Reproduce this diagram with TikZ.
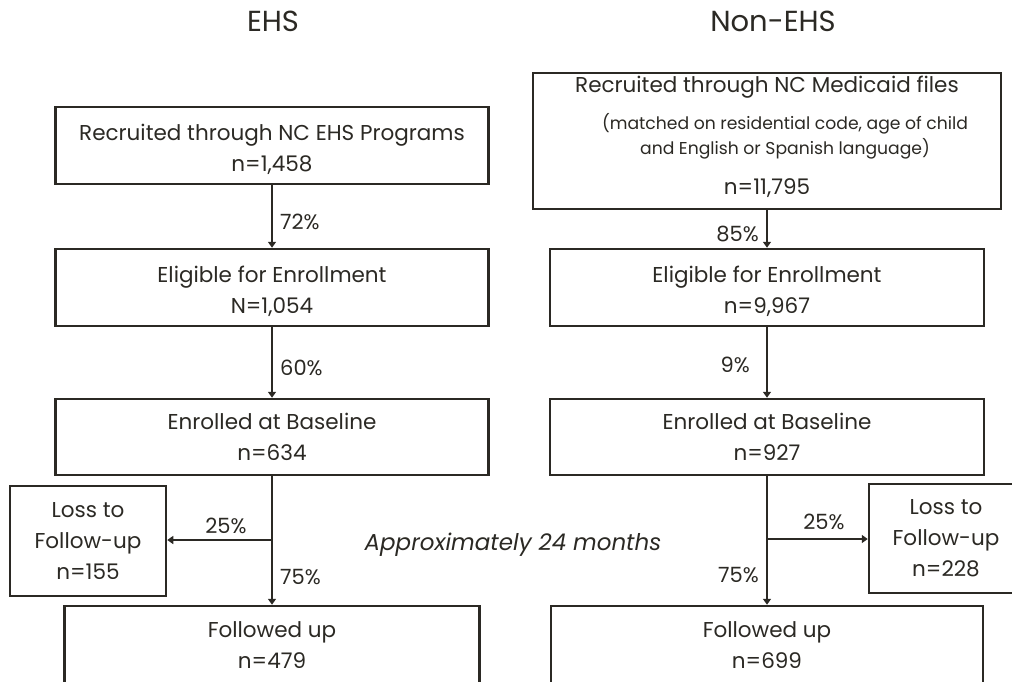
\documentclass[tikz,border=0pt]{standalone}
\usepackage{fontspec}
\setmainfont{Poppins}
\usetikzlibrary{arrows.meta}
\definecolor{ink}{HTML}{2B2924}
\tikzset{
  box/.style={draw=ink, line width=2.5pt, text=ink, align=center, inner sep=0pt,
    font=\fontsize{21.5}{31}\selectfont},
  pct/.style={text=ink, font=\fontsize{21}{24}\selectfont, inner sep=0pt},
  title/.style={text=ink, font=\fontsize{29}{32}\selectfont, inner sep=0pt},
  flow/.style={draw=ink, line width=2.5pt, -{Triangle[width=8pt,length=6pt]}},
  plain/.style={draw=ink, line width=2.5pt}
}
\newcommand{\bigtxt}{\fontsize{21.5}{31}\selectfont}
\newcommand{\smalltxt}{\fontsize{17.2}{25}\selectfont}
\begin{document}
\begin{tikzpicture}[x=1pt,y=-1pt]
\useasboundingbox (0,0) rectangle (1012,681);
\clip (0,0) rectangle (1012,681);
% titles
\node[title] (t1) at (273,21) {EHS};
\node[title] (t2) at (773,21) {Non-EHS};
% left column
\node[box, minimum width=433pt, minimum height=77pt] (L1) at (272,145.5)
  {\rule{0pt}{25pt}Recruited through NC EHS Programs\\n=1,458};
\node[box, minimum width=433pt, minimum height=77pt] (L2) at (272,287.5)
  {\rule{0pt}{25pt}Eligible for Enrollment\\N=1,054};
\node[box, minimum width=433pt, minimum height=76pt] (L3) at (272,437)
  {Enrolled at Baseline\\n=634};
\node[box, minimum width=156pt, minimum height=110pt] (LL) at (88,541)
  {Loss to\\Follow-up\\n=155};
\node[box, minimum width=415pt, minimum height=78pt] (LF) at (272,645)
  {Followed up\\n=479};
% right column
\node[box, minimum width=468pt, minimum height=136pt] (R1) at (767,141)
  {Recruited through NC Medicaid files\\[6pt]
   \smalltxt\hspace*{36pt}(matched on residential code, age of child\\[-6pt]
   \smalltxt\hspace*{36pt}and English or Spanish language)\\[9pt]
   \bigtxt n=11,795\rule[-11pt]{0pt}{1pt}};
\node[box, minimum width=434pt, minimum height=77pt] (R2) at (767,287.5)
  {\rule{0pt}{25pt}Eligible for Enrollment\\n=9,967};
\node[box, minimum width=434pt, minimum height=76pt] (R3) at (767,437)
  {Enrolled at Baseline\\n=927};
\node[box, minimum width=154pt, minimum height=109pt] (RL) at (946,538.5)
  {Loss to\\Follow-up\\n=228};
\node[box, minimum width=432pt, minimum height=78pt] (RF) at (767,645)
  {Followed up\\n=699};
% middle label
\node[text=ink, font=\fontsize{23}{26}\selectfont\itshape, inner sep=0pt] (mid) at (513,545)
  {Approximately 24 months};
% connectors left
\draw[flow] (L1.south) -- (L2.north);
\draw[flow] (L2.south) -- (L3.north);
\coordinate (LB) at (272,540);
\draw[plain] (L3.south) -- (LB);
\draw[flow] (LB) -- (LF.north);
\draw[flow] (LB) -- (LL.east |- LB);
\node[pct, anchor=west] (p1) at (280,222) {72\%};
\node[pct, anchor=west] (p2) at (280,368) {60\%};
\node[pct] (p3) at (226,526) {25\%};
\node[pct, anchor=west] (p4) at (280,577) {75\%};
% connectors right
\draw[flow] (R1.south) -- (R2.north);
\draw[flow] (R2.south) -- (R3.north);
\coordinate (RB) at (767,539);
\draw[plain] (R3.south) -- (RB);
\draw[flow] (RB) -- (RF.north);
\draw[flow] (RB) -- (RL.west |- RB);
\node[pct, anchor=east] (q1) at (759,234) {85\%};
\node[pct, anchor=east] (q2) at (750,365) {9\%};
\node[pct] (q3) at (824,522) {25\%};
\node[pct, anchor=east] (q4) at (759,575) {75\%};
\end{tikzpicture}
\end{document}
